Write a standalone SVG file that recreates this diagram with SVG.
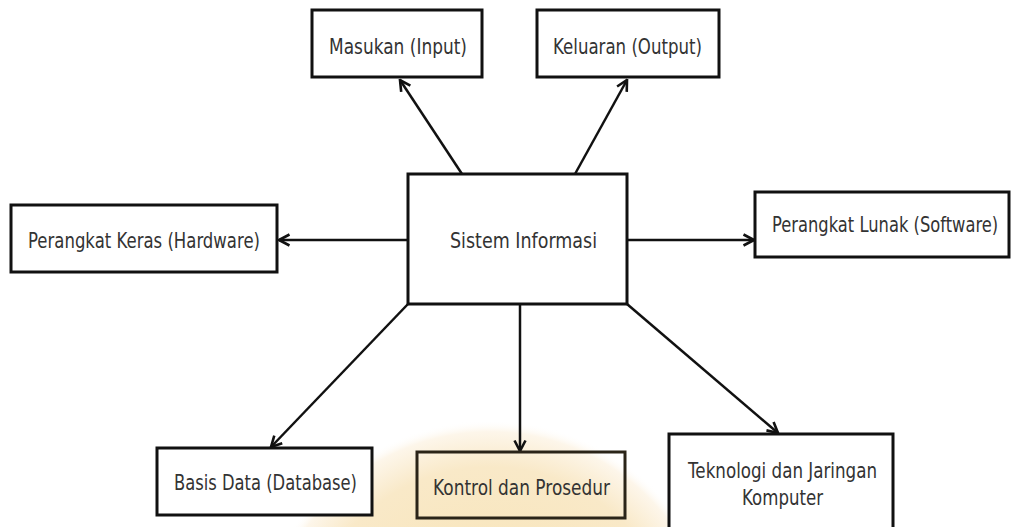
<svg xmlns="http://www.w3.org/2000/svg" width="1012" height="527" viewBox="0 0 1012 527">
  <style>
    .box { fill: #ffffff; stroke: #111111; stroke-width: 3; }
    .box2 { fill: none; stroke: #2a2418; stroke-width: 3; }
    .lbl { font-family: "DejaVu Sans", "Liberation Sans", sans-serif; font-size: 22px; fill: #333333; }
    .con { stroke: #111111; stroke-width: 2.5; fill: none; }
  </style>
  <defs>
    <marker id="arr" viewBox="0 0 14 14" refX="12.5" refY="7" markerWidth="14" markerHeight="14" markerUnits="userSpaceOnUse" orient="auto">
      <path d="M2,1.5 L12.5,7 L2,12.5" fill="none" stroke="#111111" stroke-width="2.6"/>
    </marker>
    <radialGradient id="wm" cx="0.5" cy="0.5" r="0.5">
      <stop offset="0" stop-color="#f7e2b0"/>
      <stop offset="0.8" stop-color="#f9e9c8"/>
      <stop offset="0.95" stop-color="#fdf6ea"/>
      <stop offset="1" stop-color="#ffffff" stop-opacity="0"/>
    </radialGradient>
  </defs>
  <rect x="0" y="0" width="1012" height="527" fill="#ffffff"/>
  <circle cx="490" cy="655" r="235" fill="url(#wm)"/>

  <g id="connectors">
    <line class="con" x1="462" y1="174" x2="400" y2="80" marker-end="url(#arr)"/>
    <line class="con" x1="575" y1="174" x2="627" y2="80" marker-end="url(#arr)"/>
    <line class="con" x1="408" y1="240" x2="279" y2="240" marker-end="url(#arr)"/>
    <line class="con" x1="627" y1="240" x2="754" y2="240" marker-end="url(#arr)"/>
    <line class="con" x1="408" y1="304" x2="271" y2="447" marker-end="url(#arr)"/>
    <line class="con" x1="520" y1="304" x2="520" y2="451" marker-end="url(#arr)"/>
    <line class="con" x1="627" y1="304" x2="778" y2="433" marker-end="url(#arr)"/>
  </g>

  <g id="node-masukan">
    <rect class="box" x="312" y="10" width="170" height="67"/>
    <text class="lbl" x="329" y="54" textLength="138" lengthAdjust="spacingAndGlyphs">Masukan (Input)</text>
  </g>
  <g id="node-keluaran">
    <rect class="box" x="537" y="10" width="182" height="67"/>
    <text class="lbl" x="553" y="54" textLength="149" lengthAdjust="spacingAndGlyphs">Keluaran (Output)</text>
  </g>
  <g id="node-hardware">
    <rect class="box" x="11" y="205" width="266" height="67"/>
    <text class="lbl" x="28" y="248" textLength="232" lengthAdjust="spacingAndGlyphs">Perangkat Keras (Hardware)</text>
  </g>
  <g id="node-sistem">
    <rect class="box" x="408" y="174" width="219" height="130"/>
    <text class="lbl" x="450" y="248" textLength="147" lengthAdjust="spacingAndGlyphs">Sistem Informasi</text>
  </g>
  <g id="node-software">
    <rect class="box" x="755" y="192" width="254" height="65"/>
    <text class="lbl" transform="translate(772,232) scale(0.78,1)" x="0" y="0" textLength="290" lengthAdjust="spacingAndGlyphs">Perangkat Lunak (Software)</text>
  </g>
  <g id="node-database">
    <rect class="box" x="157" y="448" width="215" height="67" stroke-width="2.5"/>
    <text class="lbl" x="174" y="490" textLength="183" lengthAdjust="spacingAndGlyphs">Basis Data (Database)</text>
  </g>
  <g id="node-kontrol">
    <rect class="box2" x="417" y="452" width="208" height="66"/>
    <text class="lbl" x="433" y="495" textLength="177" lengthAdjust="spacingAndGlyphs" fill="#3a3220">Kontrol dan Prosedur</text>
  </g>
  <g id="node-teknologi">
    <rect class="box" x="669" y="434" width="224" height="100"/>
    <text class="lbl" x="688" y="478" textLength="189" lengthAdjust="spacingAndGlyphs">Teknologi dan Jaringan</text>
    <text class="lbl" x="742" y="505" textLength="81" lengthAdjust="spacingAndGlyphs">Komputer</text>
  </g>
</svg>
